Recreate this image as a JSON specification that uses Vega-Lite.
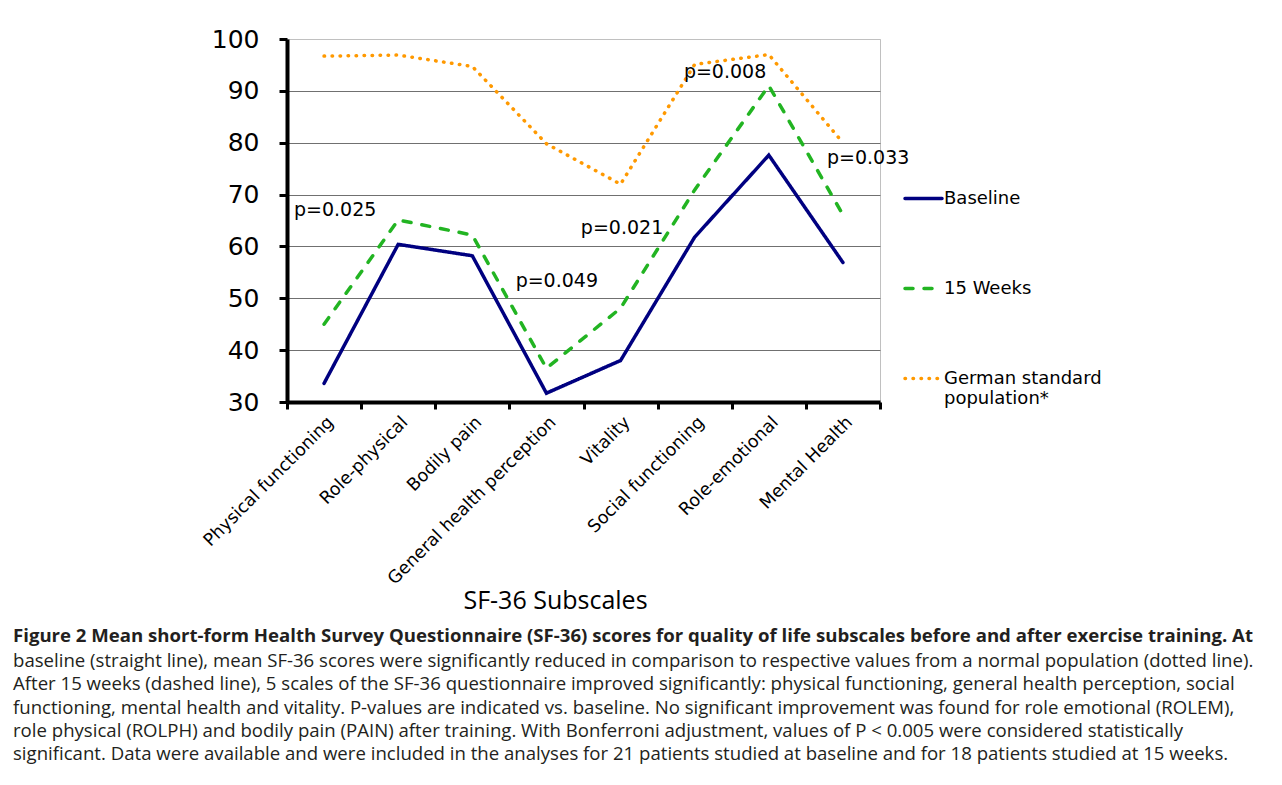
{
  "$schema": "https://vega.github.io/schema/vega-lite/v6.json",
  "width": 593,
  "height": 363,
  "autosize": {"type": "none"},
  "padding": {"left": 287, "top": 39, "right": 402, "bottom": 383},
  "background": "white",
  "datasets": {
    "scores": [
      {"subscale": "Physical functioning", "series": "Baseline", "score": 33.6},
      {"subscale": "Role-physical", "series": "Baseline", "score": 60.4},
      {"subscale": "Bodily pain", "series": "Baseline", "score": 58.2},
      {"subscale": "General health perception", "series": "Baseline", "score": 31.7},
      {"subscale": "Vitality", "series": "Baseline", "score": 38.0},
      {"subscale": "Social functioning", "series": "Baseline", "score": 61.8},
      {"subscale": "Role-emotional", "series": "Baseline", "score": 77.6},
      {"subscale": "Mental Health", "series": "Baseline", "score": 56.9},
      {"subscale": "Physical functioning", "series": "15 Weeks", "score": 45.0},
      {"subscale": "Role-physical", "series": "15 Weeks", "score": 65.1},
      {"subscale": "Bodily pain", "series": "15 Weeks", "score": 62.2},
      {"subscale": "General health perception", "series": "15 Weeks", "score": 36.5},
      {"subscale": "Vitality", "series": "15 Weeks", "score": 48.1},
      {"subscale": "Social functioning", "series": "15 Weeks", "score": 70.9},
      {"subscale": "Role-emotional", "series": "15 Weeks", "score": 91.0},
      {"subscale": "Mental Health", "series": "15 Weeks", "score": 66.1},
      {"subscale": "Physical functioning", "series": "German standard population*", "score": 96.7},
      {"subscale": "Role-physical", "series": "German standard population*", "score": 96.9},
      {"subscale": "Bodily pain", "series": "German standard population*", "score": 94.7},
      {"subscale": "General health perception", "series": "German standard population*", "score": 79.8},
      {"subscale": "Vitality", "series": "German standard population*", "score": 72.0},
      {"subscale": "Social functioning", "series": "German standard population*", "score": 95.1},
      {"subscale": "Role-emotional", "series": "German standard population*", "score": 97.0},
      {"subscale": "Mental Health", "series": "German standard population*", "score": 80.0}
    ],
    "pvals": [
      {"label": "p=0.025", "pos": 0.65, "y": 67.0},
      {"label": "p=0.049", "pos": 3.64, "y": 53.3},
      {"label": "p=0.021", "pos": 4.52, "y": 63.6},
      {"label": "p=0.008", "pos": 5.91, "y": 93.6},
      {"label": "p=0.033", "pos": 7.84, "y": 77.0}
    ]
  },
  "title": {
    "text": "Figure 2 Mean short-form Health Survey Questionnaire (SF-36) scores for quality of life subscales before and after exercise training. At",
    "subtitle": [
      "baseline (straight line), mean SF-36 scores were significantly reduced in comparison to respective values from a normal population (dotted line).",
      "After 15 weeks (dashed line), 5 scales of the SF-36 questionnaire improved significantly: physical functioning, general health perception, social",
      "functioning, mental health and vitality. P-values are indicated vs. baseline. No significant improvement was found for role emotional (ROLEM),",
      "role physical (ROLPH) and bodily pain (PAIN) after training. With Bonferroni adjustment, values of P < 0.005 were considered statistically",
      "significant. Data were available and were included in the analyses for 21 patients studied at baseline and for 18 patients studied at 15 weeks."
    ],
    "orient": "bottom",
    "anchor": "start",
    "frame": "group",
    "dx": -274,
    "offset": 14,
    "font": "Open Sans",
    "fontSize": 18.6,
    "fontWeight": "bold",
    "color": "#231f20",
    "subtitleFont": "Open Sans",
    "subtitleFontSize": 18.6,
    "subtitleColor": "#231f20",
    "subtitleLineHeight": 23.3,
    "subtitlePadding": 6
  },
  "layer": [
    {
      "data": {"name": "scores"},
      "mark": {"type": "line", "strokeWidth": 3.5, "strokeCap": "round", "strokeJoin": "miter"},
      "encoding": {
        "x": {
          "field": "subscale",
          "type": "nominal",
          "sort": null,
          "scale": {"type": "band", "paddingInner": 0, "paddingOuter": 0},
          "axis": {
            "title": "SF-36 Subscales",
            "titleFont": "Open Sans",
            "titleFontSize": 25,
            "titleFontWeight": "normal",
            "titleColor": "#000",
            "titleX": 268,
            "titlePadding": 1,
            "labelAngle": -45,
            "labelAlign": "right",
            "labelBaseline": "top",
            "labelFont": "DejaVu Sans",
            "labelFontSize": 17.5,
            "labelColor": "#000",
            "labelPadding": 4,
            "labelLimit": 400,
            "tickBand": "extent",
            "tickColor": "#000",
            "tickWidth": 3,
            "tickSize": 7,
            "domainColor": "#000",
            "domainWidth": 4,
            "grid": false
          }
        },
        "y": {
          "field": "score",
          "type": "quantitative",
          "scale": {"domain": [30, 100], "nice": false, "zero": false},
          "axis": {
            "title": null,
            "values": [30, 40, 50, 60, 70, 80, 90, 100],
            "labelFont": "DejaVu Sans",
            "labelFontSize": 25,
            "labelColor": "#000",
            "labelPadding": 20,
            "tickColor": "#000",
            "tickWidth": 3,
            "tickSize": 8,
            "domainColor": "#000",
            "domainWidth": 4,
            "grid": true,
            "gridColor": {"condition": {"test": "datum.value == 100", "value": "#c0c0c0"}, "value": "#707070"},
            "gridWidth": 1
          }
        },
        "color": {
          "field": "series",
          "type": "nominal",
          "sort": null,
          "scale": {
            "domain": ["Baseline", "15 Weeks", "German standard population*"],
            "range": ["#000080", "#22b422", "#ff9900"]
          },
          "legend": {
            "title": null,
            "labelExpr": "datum.label == 'German standard population*' ? ['German standard', 'population*'] : datum.label",
            "encode": {"symbols": {"update": {"strokeCap": {"value": "round"}}}}
          }
        },
        "strokeDash": {
          "field": "series",
          "type": "nominal",
          "sort": null,
          "scale": {
            "domain": ["Baseline", "15 Weeks", "German standard population*"],
            "range": [[1, 0], [8, 11], [0.5, 7.5]]
          },
          "legend": {
            "title": null,
            "labelExpr": "datum.label == 'German standard population*' ? ['German standard', 'population*'] : datum.label",
            "encode": {"symbols": {"update": {"strokeCap": {"value": "round"}}}}
          }
        }
      }
    },
    {
      "data": {"name": "pvals"},
      "mark": {"type": "text", "font": "DejaVu Sans", "fontSize": 19, "color": "#000", "baseline": "middle", "align": "center"},
      "encoding": {
        "x": {"field": "pos", "type": "quantitative", "scale": {"domain": [0, 8], "nice": false, "zero": false}, "axis": null},
        "y": {"field": "y", "type": "quantitative"},
        "text": {"field": "label"}
      }
    }
  ],
  "resolve": {"scale": {"x": "independent"}},
  "config": {
    "view": {"stroke": "#c0c0c0", "strokeWidth": 1},
    "legend": {
      "orient": "none",
      "legendX": 616,
      "legendY": 139,
      "symbolType": "stroke",
      "symbolSize": 1369,
      "symbolStrokeWidth": 3.5,
      "labelFont": "DejaVu Sans",
      "labelFontSize": 18,
      "labelColor": "#000",
      "labelOffset": 0,
      "labelLimit": 400,
      "rowPadding": 60
    }
  }
}
